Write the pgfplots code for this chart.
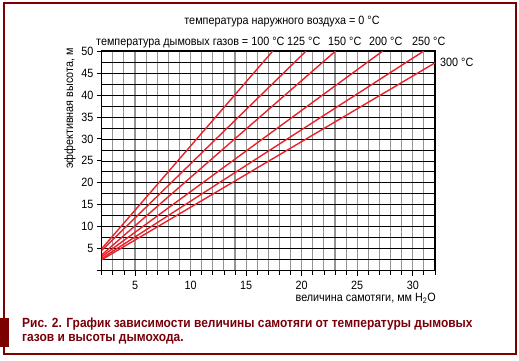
\documentclass[border=0pt]{standalone}
\usepackage{fontspec}
\setmainfont{Liberation Sans}[FakeStretch=0.9]
\usepackage{pgfplots}
\pgfplotsset{compat=1.18}
\definecolor{framered}{RGB}{125,0,0}
\definecolor{capred}{RGB}{120,0,10}
\definecolor{lred}{RGB}{235,32,40}
\begin{document}
\fontsize{12}{14}\selectfont
\begin{tikzpicture}[x=1pt,y=1pt]
\useasboundingbox (0,0) rectangle (519,360);
\begin{axis}[
  at={(101.7pt,89.3pt)}, anchor=south west, scale only axis,
  width=333.3pt, height=219.7pt,
  xmin=2, xmax=32, ymin=0, ymax=50,
  xtick={5,10,...,30}, minor xtick={2,3,...,32},
  ytick={0,5,...,50}, yticklabels={,5,10,15,20,25,30,35,40,45,50},
  minor ytick={2.5,7.5,...,47.5},
  grid=both,
  xtick pos=bottom, ytick pos=left, tick align=outside,
  major tick length=5pt, minor tick length=4pt,
  minor y tick style={draw=none},
  major x grid style={black!42, line width=1.1pt},
  minor x grid style={black!42, line width=1.1pt},
  major y grid style={black, line width=0.7pt},
  minor y grid style={black, line width=0.7pt},
  axis line style={line width=1.5pt},
  every tick/.style={black, line width=0.8pt},
  /pgf/number format/assume math mode=true,
  tick label style={font=\fontsize{12}{14}\selectfont},
  yticklabel style={xshift=1pt},
  xticklabel style={yshift=-1pt},
]
\addplot[lred, line width=1.4pt] coordinates {(2,5.0) (17.4,50)};
\addplot[lred, line width=1.4pt] coordinates {(2,4.6) (20.4,50)};
\addplot[lred, line width=1.4pt] coordinates {(2,3.6) (23.05,50)};
\addplot[lred, line width=1.4pt] coordinates {(2,3.2) (27.3,50)};
\addplot[lred, line width=1.4pt] coordinates {(2,2.8) (31.0,50)};
\addplot[lred, line width=1.4pt] coordinates {(2,2.5) (32,47.3)};
\end{axis}
% frame and caption
\draw[framered, line width=2pt] (3.5,6) rectangle (516,357.5);
\fill[framered] (0,13.3) rectangle (8.5,42);
\node[anchor=base west, inner sep=0, text=capred, font=\fontsize{13.3}{15}\selectfont\bfseries] at (22,32.5) {Рис. 2. График зависимости величины самотяги от температуры дымовых};
\node[anchor=base west, inner sep=0, text=capred, font=\fontsize{13.3}{15}\selectfont\bfseries] at (22,18.3) {газов и высоты дымохода.};
% titles
\node[anchor=base, inner sep=0] at (282,336) {температура наружного воздуха = 0 °C};
\node[anchor=base west, inner sep=0] at (96,314.3) {температура дымовых газов = 100 °C};
\node[anchor=base west, inner sep=0] at (287,314.3) {125 °C};
\node[anchor=base west, inner sep=0] at (328,314.3) {150 °C};
\node[anchor=base west, inner sep=0] at (369,314.3) {200 °C};
\node[anchor=base west, inner sep=0] at (412,314.3) {250 °C};
\node[anchor=base west, inner sep=0] at (440,293.3) {300 °C};
\node[rotate=90, anchor=east, inner sep=0] at (70,312) {эффективная высота, м};
\node[anchor=base east, inner sep=0] at (436,58.3) {величина самотяги, мм H\textsubscript{2}O};
\end{tikzpicture}
\end{document}
